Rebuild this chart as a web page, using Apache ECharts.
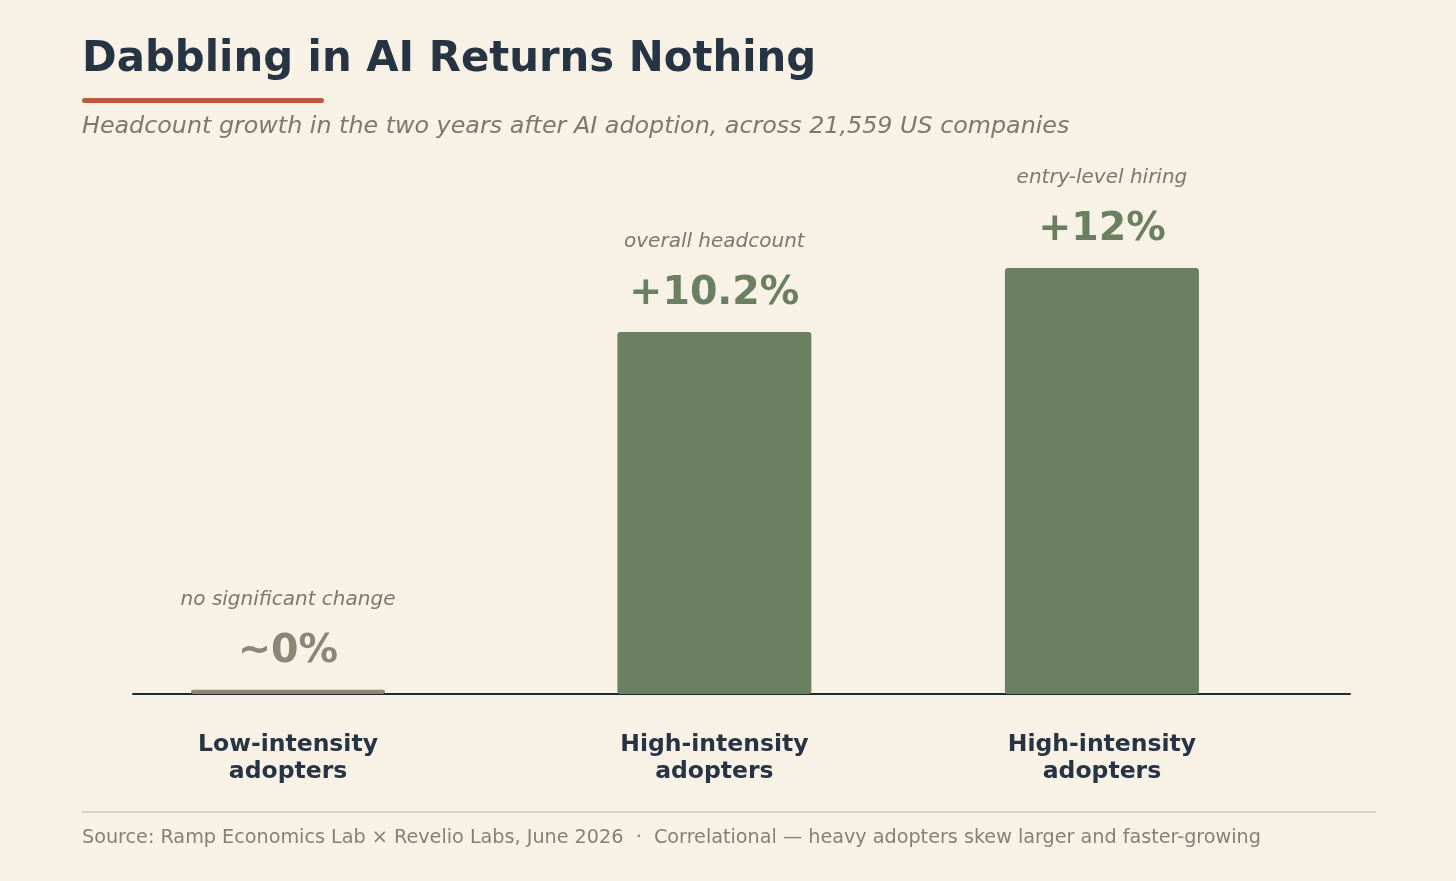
<!DOCTYPE html>
<html>
<head>
<meta charset="utf-8">
<script src="https://cdn.jsdelivr.net/npm/echarts@6/dist/echarts.min.js"></script>
<style>
  html, body { margin: 0; padding: 0; background: #f7f1e6; }
  #chart { width: 1456px; height: 881px; }
</style>
</head>
<body>
<div id="chart"></div>
<script>
// 数据
const categories = ['Low-intensity\nadopters', 'High-intensity\nadopters', 'High-intensity\nadopters'];
const positions = [0, 1.1, 2.1];
const values = [0.12, 10.2, 12];
const valueLabels = ['~0%', '+10.2%', '+12%'];
const notes = ['no significant change', 'overall headcount', 'entry-level hiring'];
const barColors = ['#8a8775', '#6b8060', '#6b8060'];
const labelColors = ['#8a8775', '#6b8060', '#6b8060'];

const FONT = "'DejaVu Sans', sans-serif";
const chart = echarts.init(document.getElementById('chart'));

const barData = values.map((v, i) => ({
  value: [positions[i], v],
  itemStyle: { color: barColors[i] },
  label: {
    formatter: '{a|' + notes[i] + '}\n{b|' + valueLabels[i] + '}',
    rich: {
      a: { fontFamily: FONT, fontStyle: 'italic', fontSize: 20, color: '#7b7968', lineHeight: 60, align: 'center' },
      b: { fontFamily: FONT, fontWeight: 'bold', fontSize: 39.5, color: labelColors[i], lineHeight: 44, align: 'center' }
    }
  }
}));

const option = {
  backgroundColor: '#f7f1e6',
  animation: false,
  title: [
    {
      text: 'Dabbling in AI Returns Nothing',
      left: 77, top: 34,
      textStyle: { fontFamily: FONT, fontWeight: 'bold', fontSize: 41.8, color: '#263444' }
    },
    {
      text: 'Headcount growth in the two years after AI adoption, across 21,559 US companies',
      left: 77, top: 110,
      textStyle: { fontFamily: FONT, fontStyle: 'italic', fontWeight: 'normal', fontSize: 23.8, color: '#7b7968' }
    },
    {
      text: 'Source: Ramp Economics Lab \u00d7 Revelio Labs, June 2026  \u00b7  Correlational \u2014 heavy adopters skew larger and faster-growing',
      left: 77, top: 824,
      textStyle: { fontFamily: FONT, fontWeight: 'normal', fontSize: 19.2, color: '#858272' }
    }
  ],
  graphic: [
    { type: 'rect', shape: { x: 82, y: 98, width: 242, height: 5, r: 2.5 }, style: { fill: '#c0583a' } },
    { type: 'line', shape: { x1: 82, y1: 812, x2: 1376, y2: 812 }, style: { stroke: '#ddd4bf', lineWidth: 2 } }
  ],
  grid: { left: 133, right: 106, top: 197, bottom: 187 },
  xAxis: {
    type: 'value',
    min: -0.4,
    max: 2.74,
    splitLine: { show: false },
    axisTick: { show: false },
    axisLine: { show: true, onZero: false, lineStyle: { color: '#1e2a38', width: 2 } },
    axisLabel: {
      customValues: positions,
      margin: 37,
      fontFamily: FONT,
      fontWeight: 'bold',
      fontSize: 23.5,
      lineHeight: 27,
      color: '#263444',
      formatter: (v) => {
        const i = positions.findIndex(p => Math.abs(p - v) < 1e-6);
        return i >= 0 ? categories[i] : '';
      }
    }
  },
  yAxis: {
    type: 'value',
    min: 0,
    max: 14,
    show: false
  },
  series: [
    {
      type: 'bar',
      data: barData,
      barWidth: 194,
      itemStyle: { borderRadius: 3 },
      label: { show: true, position: 'top', distance: 16 }
    }
  ]
};

chart.setOption(option);
</script>
</body>
</html>
